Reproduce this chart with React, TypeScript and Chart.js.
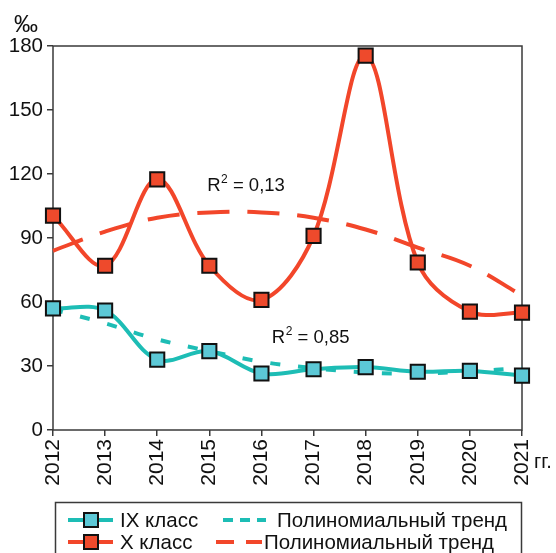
import { useEffect, useRef } from "react";
import { Chart, registerables } from "chart.js";

Chart.register(...registerables);

const years = ["2012", "2013", "2014", "2015", "2016", "2017", "2018", "2019", "2020", "2021"];
const classIX = [57, 56, 33, 37, 26.5, 28.5, 29.5, 27.3, 27.7, 25.5];
const classX = [100.5, 77, 117.5, 77, 61, 91, 175.5, 78.5, 55.5, 55];
const trendIX = [56.5, 50, 42.5, 37, 32, 29, 27, 26.5, 27.5, 29];
const trendX = [84, 93, 99.5, 102, 102, 99.5, 94, 85.5, 77, 63];
const yTickValues = [0, 30, 60, 90, 120, 150, 180];
const seriesNames = ["IX класс", "X класс"];
const trendName = "Полиномиальный тренд";
const r2IX = "0,85";
const r2X = "0,13";
const yUnit = "‰";
const xUnit = "гг.";

const FONT = "'Liberation Sans', Arial, sans-serif";
const CYAN_LINE = "#1DBDB5";
const CYAN_FILL = "#5CC8D6";
const RED_LINE = "#F2462A";
const RED_FILL = "#EE4A2C";
const AXIS = "#3a3a3a";

function drawMarker(ctx: CanvasRenderingContext2D, x: number, y: number, fill: string) {
  ctx.save();
  ctx.fillStyle = fill;
  ctx.strokeStyle = "#111";
  ctx.lineWidth = 2;
  ctx.fillRect(x - 7, y - 7, 14, 14);
  ctx.strokeRect(x - 7, y - 7, 14, 14);
  ctx.restore();
}

function drawR2(ctx: CanvasRenderingContext2D, x: number, baseline: number, value: string) {
  ctx.save();
  ctx.fillStyle = "#111";
  ctx.textBaseline = "alphabetic";
  ctx.textAlign = "left";
  ctx.font = `18.5px ${FONT}`;
  ctx.fillText("R", x, baseline);
  const w = ctx.measureText("R").width;
  ctx.font = `12px ${FONT}`;
  ctx.fillText("2", x + w + 0.5, baseline - 8);
  const w2 = ctx.measureText("2").width;
  ctx.font = `18.5px ${FONT}`;
  ctx.fillText(" = " + value, x + w + w2 + 0.5, baseline);
  ctx.restore();
}

const framePlugin = {
  id: "frame",
  beforeDatasetsDraw(chart: any) {
    const { ctx, chartArea: a } = chart;
    ctx.save();
    ctx.strokeStyle = AXIS;
    ctx.lineWidth = 1.5;
    ctx.strokeRect(a.left, a.top, a.right - a.left, a.bottom - a.top);
    ctx.restore();
  },
  afterDraw(chart: any) {
    const { ctx } = chart;
    const xs = chart.scales.x;
    const ys = chart.scales.y;
    drawR2(ctx, xs.getPixelForValue(2.96), ys.getPixelForValue(112), r2X);
    drawR2(ctx, xs.getPixelForValue(4.2), ys.getPixelForValue(41), r2IX);

    ctx.save();
    ctx.fillStyle = "#111";
    ctx.textBaseline = "alphabetic";
    ctx.textAlign = "left";
    ctx.font = `24px ${FONT}`;
    ctx.fillText(yUnit, 14, 32);
    ctx.font = `20px ${FONT}`;
    ctx.fillText(xUnit, 534, 468);
    ctx.restore();

    ctx.save();
    ctx.strokeStyle = AXIS;
    ctx.lineWidth = 1.5;
    ctx.strokeRect(55.5, 502.5, 466, 70);
    const rows = [
      { y: 520, line: CYAN_LINE, fill: CYAN_FILL, name: seriesNames[0], dash: [10, 7], dx0: 223, dx1: 266, tx: 277 },
      { y: 542, line: RED_LINE, fill: RED_FILL, name: seriesNames[1], dash: [18, 12], dx0: 216, dx1: 262, tx: 264 },
    ];
    ctx.font = `20.5px ${FONT}`;
    ctx.textBaseline = "middle";
    ctx.textAlign = "left";
    for (const r of rows) {
      ctx.strokeStyle = r.line;
      ctx.lineWidth = 4;
      ctx.setLineDash([]);
      ctx.beginPath();
      ctx.moveTo(68, r.y);
      ctx.lineTo(113, r.y);
      ctx.stroke();
      drawMarker(ctx, 91, r.y, r.fill);
      ctx.fillStyle = "#111";
      ctx.fillText(r.name, 120, r.y + 1);
      ctx.strokeStyle = r.line;
      ctx.lineWidth = 4;
      ctx.setLineDash(r.dash);
      ctx.beginPath();
      ctx.moveTo(r.dx0, r.y);
      ctx.lineTo(r.dx1, r.y);
      ctx.stroke();
      ctx.setLineDash([]);
      ctx.fillStyle = "#111";
      ctx.fillText(trendName, r.tx, r.y + 1);
    }
    ctx.restore();
  },
};

export default function App() {
  const ref = useRef<HTMLCanvasElement | null>(null);
  useEffect(() => {
    document.body.style.margin = "0";
    const canvas = ref.current!;
    const chart = new Chart(canvas, {
      type: "line",
      data: {
        labels: years,
        datasets: [
          {
            label: trendName + " IX",
            data: trendIX,
            borderColor: CYAN_LINE,
            borderWidth: 4,
            borderDash: [10, 18],
            pointRadius: 0,
            tension: 0.4,
            fill: false,
            order: 3,
          },
          {
            label: trendName + " X",
            data: trendX,
            borderColor: RED_LINE,
            borderWidth: 4,
            borderDash: [32, 18],
            pointRadius: 0,
            tension: 0.4,
            fill: false,
            order: 3,
          },
          {
            label: seriesNames[0],
            data: classIX,
            borderColor: CYAN_LINE,
            borderWidth: 4,
            backgroundColor: CYAN_FILL,
            pointBackgroundColor: CYAN_FILL,
            pointBorderColor: "#111",
            pointBorderWidth: 2,
            pointStyle: "rect",
            pointRadius: 10,
            tension: 0.35,
            fill: false,
            order: 1,
          },
          {
            label: seriesNames[1],
            data: classX,
            borderColor: RED_LINE,
            borderWidth: 4,
            backgroundColor: RED_FILL,
            pointBackgroundColor: RED_FILL,
            pointBorderColor: "#111",
            pointBorderWidth: 2,
            pointStyle: "rect",
            pointRadius: 10,
            tension: 0.35,
            fill: false,
            order: 2,
          },
        ],
      },
      options: {
        responsive: false,
        animation: false,
        layout: { padding: { left: 0, top: 46, right: 34, bottom: 53 } },
        plugins: { legend: { display: false }, tooltip: { enabled: false } },
        scales: {
          x: {
            offset: false,
            grid: { display: true, drawOnChartArea: false, drawTicks: true, tickLength: 6, color: AXIS, lineWidth: 1.5 },
            border: { display: false },
            ticks: {
              color: "#111",
              font: { family: FONT, size: 21 },
              minRotation: 90,
              maxRotation: 90,
              padding: 3,
              autoSkip: false,
            },
            afterFit(scale: any) {
              scale.height = 70;
            },
          },
          y: {
            min: 0,
            max: 180,
            afterBuildTicks(scale: any) {
              scale.ticks = yTickValues.map((v) => ({ value: v }));
            },
            grid: { display: true, drawOnChartArea: false, drawTicks: true, tickLength: 6, color: AXIS, lineWidth: 1.5 },
            border: { display: false },
            ticks: {
              color: "#111",
              font: { family: FONT, size: 20.5 },
              padding: 4,
            },
            afterFit(scale: any) {
              scale.width = 53;
            },
          },
        },
      },
      plugins: [framePlugin],
    } as any);
    return () => chart.destroy();
  }, []);
  return (
    <div style={{ position: "absolute", left: 0, top: 0, width: 556, height: 553, background: "#fff", overflow: "hidden" }}>
      <canvas ref={ref} width={556} height={553} style={{ display: "block" }} />
    </div>
  );
}
